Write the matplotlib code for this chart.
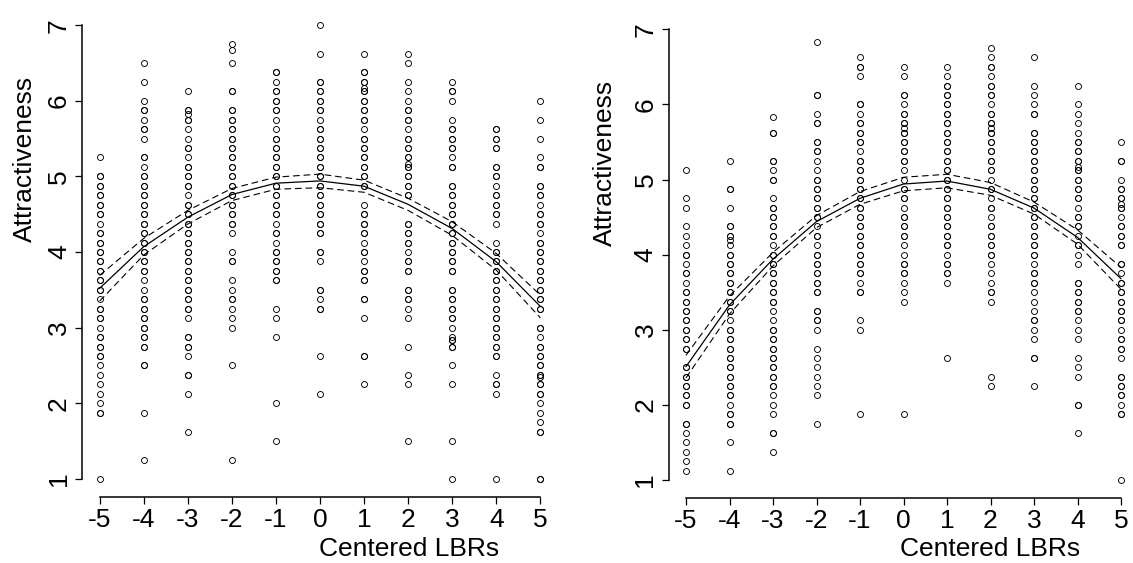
import matplotlib
matplotlib.use('Agg')
import matplotlib.pyplot as plt

plt.rcParams['font.family'] = ['Liberation Sans', 'DejaVu Sans']

# ---------------- data ----------------
x_levels = [-5, -4, -3, -2, -1, 0, 1, 2, 3, 4, 5]
x_ticklabels = ['-5', '-4', '-3', '-2', '-1', '0', '1', '2', '3', '4', '5']
y_ticks = [1, 2, 3, 4, 5, 6, 7]
x_label = 'Centered LBRs'
y_label = 'Attractiveness'

# left panel: attractiveness ratings at each centered LBR level (repeats = overplotted points)
left_m5 = [5.25, 5.0, 5.0, 4.875, 4.875, 4.75, 4.75, 4.625, 4.625, 4.5, 4.5, 4.375, 4.25, 4.25, 4.125, 4.125,
           4.0, 4.0, 3.875, 3.875, 3.75, 3.75, 3.625, 3.625, 3.5, 3.5, 3.375, 3.25, 3.25, 3.125, 3.125, 3.0,
           2.875, 2.875, 2.75, 2.75, 2.625, 2.625, 2.5, 2.375, 2.25, 2.125, 2.0, 1.875, 1.875, 1.0]
left_m4 = [6.5, 6.25, 6.0, 5.875, 5.875, 5.75, 5.625, 5.625, 5.5, 5.25, 5.25, 5.125, 5.0, 5.0, 4.875, 4.875,
           4.75, 4.75, 4.625, 4.625, 4.5, 4.5, 4.375, 4.375, 4.25, 4.25, 4.125, 4.125, 4.0, 4.0, 3.875, 3.875,
           3.75, 3.75, 3.625, 3.5, 3.375, 3.375, 3.25, 3.25, 3.125, 3.125, 3.0, 3.0, 2.875, 2.875, 2.75, 2.75,
           2.5, 2.5, 1.875, 1.25]
left_m3 = [6.125, 5.875, 5.875, 5.83, 5.75, 5.75, 5.625, 5.5, 5.375, 5.375, 5.25, 5.125, 5.125, 5.0, 5.0,
           4.875, 4.875, 4.75, 4.625, 4.625, 4.5, 4.5, 4.375, 4.375, 4.25, 4.25, 4.125, 4.125, 4.0, 4.0,
           3.875, 3.875, 3.75, 3.75, 3.625, 3.625, 3.5, 3.5, 3.375, 3.375, 3.25, 3.25, 3.125, 2.875, 2.875,
           2.75, 2.75, 2.625, 2.375, 2.375, 2.125, 1.625]
left_m2 = [6.75, 6.67, 6.5, 6.125, 6.125, 5.875, 5.875, 5.75, 5.75, 5.625, 5.625, 5.5, 5.5, 5.375, 5.375,
           5.25, 5.25, 5.125, 5.125, 5.0, 5.0, 4.875, 4.875, 4.75, 4.75, 4.625, 4.625, 4.5, 4.5, 4.375, 4.375,
           4.25, 4.0, 3.875, 3.875, 3.625, 3.5, 3.375, 3.375, 3.25, 3.125, 3.0, 2.5, 1.25]
left_m1 = [6.375, 6.375, 6.25, 6.125, 6.125, 6.0, 6.0, 5.875, 5.875, 5.75, 5.625, 5.5, 5.5, 5.375, 5.375,
           5.25, 5.25, 5.125, 5.125, 5.0, 5.0, 4.875, 4.875, 4.75, 4.75, 4.625, 4.625, 4.5, 4.5, 4.375,
           4.25, 4.25, 4.125, 4.0, 4.0, 3.875, 3.875, 3.75, 3.75, 3.625, 3.625, 3.25, 3.125, 2.875, 2.0, 1.5]
left_0 = [7.0, 6.625, 6.25, 6.25, 6.125, 6.125, 6.0, 6.0, 5.875, 5.875, 5.75, 5.625, 5.625, 5.5, 5.5,
          5.375, 5.375, 5.25, 5.25, 5.125, 5.125, 5.0, 5.0, 4.875, 4.875, 4.75, 4.75, 4.625, 4.625, 4.5, 4.5,
          4.375, 4.375, 4.25, 4.25, 4.0, 4.0, 3.875, 3.5, 3.5, 3.375, 3.25, 3.25, 2.625, 2.125]
left_p1 = [6.625, 6.375, 6.375, 6.25, 6.25, 6.17, 6.125, 6.125, 6.0, 6.0, 5.875, 5.875, 5.75, 5.75, 5.625,
           5.5, 5.5, 5.375, 5.375, 5.25, 5.25, 5.125, 5.125, 5.0, 5.0, 4.875, 4.875, 4.625, 4.5, 4.5,
           4.375, 4.375, 4.25, 4.25, 4.125, 4.0, 4.0, 3.875, 3.75, 3.75, 3.625, 3.625, 3.375, 3.375, 3.125,
           2.625, 2.625, 2.25]
left_p2 = [6.625, 6.5, 6.25, 6.125, 6.0, 5.875, 5.875, 5.75, 5.75, 5.625, 5.5, 5.5, 5.375, 5.375, 5.25, 5.25,
           5.17, 5.125, 5.125, 5.0, 5.0, 4.875, 4.875, 4.75, 4.75, 4.375, 4.375, 4.25, 4.25, 4.125, 4.125,
           4.0, 3.875, 3.875, 3.75, 3.75, 3.5, 3.5, 3.375, 3.375, 3.25, 3.125, 2.75, 2.375, 2.25, 1.5]
left_p3 = [6.25, 6.125, 6.125, 6.0, 5.75, 5.625, 5.625, 5.5, 5.5, 5.375, 5.375, 5.25, 5.125, 5.125, 4.875,
           4.875, 4.75, 4.75, 4.625, 4.625, 4.5, 4.5, 4.375, 4.375, 4.25, 4.25, 4.125, 4.125, 4.0, 4.0,
           3.875, 3.875, 3.75, 3.75, 3.5, 3.5, 3.375, 3.375, 3.25, 3.25, 3.125, 3.125, 3.0, 2.875, 2.83, 2.83,
           2.75, 2.75, 2.5, 2.25, 1.5, 1.0]
left_p4 = [5.625, 5.625, 5.5, 5.5, 5.375, 5.375, 5.125, 5.125, 5.0, 5.0, 4.875, 4.75, 4.75, 4.625, 4.625,
           4.5, 4.5, 4.375, 4.125, 4.0, 4.0, 3.875, 3.875, 3.75, 3.75, 3.625, 3.625, 3.5, 3.5, 3.375, 3.375,
           3.25, 3.25, 3.125, 3.125, 3.0, 3.0, 2.875, 2.875, 2.75, 2.75, 2.625, 2.625, 2.375, 2.25, 2.25,
           2.125, 1.0]
left_p5 = [6.0, 5.75, 5.5, 5.25, 5.125, 5.125, 4.875, 4.875, 4.75, 4.75, 4.625, 4.5, 4.5, 4.375, 4.375,
           4.25, 4.125, 4.125, 4.0, 4.0, 3.875, 3.875, 3.75, 3.75, 3.625, 3.625, 3.5, 3.5, 3.375, 3.375,
           3.25, 3.25, 3.0, 3.0, 2.875, 2.75, 2.75, 2.625, 2.625, 2.5, 2.5, 2.375, 2.375, 2.35, 2.25, 2.25,
           2.125, 2.125, 2.0, 1.875, 1.75, 1.625, 1.625, 1.0, 1.0]

# right panel
right_m5 = [5.125, 4.75, 4.625, 4.375, 4.25, 4.125, 4.0, 4.0, 3.875, 3.75, 3.75, 3.625, 3.5, 3.5, 3.375,
            3.375, 3.25, 3.25, 3.125, 3.125, 3.0, 3.0, 2.875, 2.875, 2.75, 2.75, 2.5, 2.5, 2.375, 2.375,
            2.25, 2.25, 2.125, 2.125, 2.0, 2.0, 1.75, 1.75, 1.625, 1.5, 1.375, 1.25, 1.125]
right_m4 = [5.25, 4.875, 4.875, 4.625, 4.375, 4.375, 4.25, 4.25, 4.19, 4.125, 4.0, 4.0, 3.875, 3.875,
            3.75, 3.75, 3.625, 3.625, 3.5, 3.5, 3.375, 3.375, 3.25, 3.25, 3.125, 3.0, 3.0, 2.875, 2.875,
            2.75, 2.75, 2.625, 2.625, 2.5, 2.5, 2.375, 2.375, 2.25, 2.25, 2.125, 2.125, 2.0, 1.875, 1.875,
            1.75, 1.75, 1.5, 1.125]
right_m3 = [5.83, 5.625, 5.625, 5.25, 5.25, 5.125, 5.0, 5.0, 4.75, 4.625, 4.625, 4.5, 4.5, 4.375, 4.375,
            4.25, 4.25, 4.125, 4.0, 4.0, 3.875, 3.875, 3.75, 3.75, 3.625, 3.625, 3.5, 3.5, 3.375, 3.375,
            3.25, 3.125, 3.0, 3.0, 2.875, 2.875, 2.75, 2.75, 2.625, 2.625, 2.5, 2.5, 2.375, 2.375, 2.25,
            2.25, 2.125, 2.0, 1.875, 1.625, 1.625, 1.375]
right_m2 = [6.83, 6.125, 6.125, 5.875, 5.75, 5.75, 5.5, 5.5, 5.375, 5.375, 5.25, 5.125, 5.0, 5.0, 4.875,
            4.875, 4.75, 4.75, 4.625, 4.625, 4.5, 4.5, 4.375, 4.25, 4.25, 4.125, 4.0, 4.0, 3.875, 3.875,
            3.75, 3.75, 3.625, 3.625, 3.5, 3.5, 3.25, 3.25, 3.125, 3.125, 3.0, 2.75, 2.625, 2.5, 2.375,
            2.25, 2.125, 1.75]
right_m1 = [6.625, 6.5, 6.5, 6.375, 6.0, 6.0, 5.875, 5.75, 5.75, 5.625, 5.625, 5.5, 5.5, 5.375, 5.25, 5.25,
            5.125, 5.125, 5.0, 5.0, 4.875, 4.875, 4.75, 4.75, 4.625, 4.625, 4.5, 4.5, 4.375, 4.375, 4.25,
            4.25, 4.125, 4.125, 4.0, 4.0, 3.875, 3.875, 3.75, 3.75, 3.625, 3.5, 3.5, 3.125, 3.0, 1.875]
right_0 = [6.5, 6.375, 6.125, 6.125, 6.0, 5.875, 5.875, 5.75, 5.75, 5.68, 5.625, 5.625, 5.5, 5.5, 5.375,
           5.375, 5.25, 5.25, 5.125, 5.0, 4.875, 4.875, 4.75, 4.75, 4.625, 4.5, 4.5, 4.375, 4.375, 4.25,
           4.25, 4.125, 4.0, 3.875, 3.875, 3.75, 3.75, 3.625, 3.5, 3.375, 1.875]
right_p1 = [6.5, 6.375, 6.25, 6.25, 6.125, 6.125, 6.0, 6.0, 5.875, 5.875, 5.75, 5.75, 5.625, 5.625, 5.5,
            5.5, 5.375, 5.375, 5.25, 5.25, 5.125, 5.125, 5.0, 5.0, 4.875, 4.875, 4.75, 4.75, 4.625, 4.625,
            4.5, 4.5, 4.375, 4.375, 4.25, 4.25, 4.125, 4.125, 4.0, 3.875, 3.875, 3.75, 3.75, 3.625, 2.625]
right_p2 = [6.75, 6.625, 6.5, 6.5, 6.375, 6.25, 6.25, 6.125, 6.125, 6.0, 5.875, 5.875, 5.75, 5.75, 5.68,
            5.625, 5.625, 5.5, 5.5, 5.375, 5.375, 5.25, 5.25, 5.125, 5.125, 5.0, 4.875, 4.875, 4.75, 4.625,
            4.625, 4.5, 4.375, 4.375, 4.25, 4.25, 4.125, 4.125, 4.0, 4.0, 3.875, 3.75, 3.625, 3.5, 3.5,
            3.375, 2.375, 2.25]
right_p3 = [6.625, 6.25, 6.125, 6.0, 5.875, 5.875, 5.625, 5.625, 5.5, 5.5, 5.375, 5.375, 5.25, 5.25,
            5.125, 5.125, 5.0, 5.0, 4.875, 4.875, 4.75, 4.75, 4.625, 4.625, 4.5, 4.5, 4.375, 4.375, 4.25,
            4.25, 4.125, 4.125, 4.0, 4.0, 3.875, 3.75, 3.75, 3.625, 3.625, 3.5, 3.375, 3.25, 3.125, 3.125,
            3.0, 2.875, 2.625, 2.625, 2.25]
right_p4 = [6.25, 6.0, 5.875, 5.75, 5.625, 5.5, 5.5, 5.375, 5.375, 5.25, 5.25, 5.17, 5.125, 5.125, 5.0,
            5.0, 4.875, 4.875, 4.75, 4.75, 4.625, 4.5, 4.5, 4.375, 4.375, 4.25, 4.125, 4.125, 4.0, 3.875,
            3.625, 3.625, 3.5, 3.5, 3.375, 3.375, 3.25, 3.25, 3.125, 3.0, 2.875, 2.625, 2.5, 2.375, 2.0,
            2.0, 1.625]
right_p5 = [5.5, 5.25, 5.25, 5.0, 4.875, 4.875, 4.75, 4.75, 4.68, 4.625, 4.625, 4.5, 4.375, 4.375, 4.25,
            4.25, 4.125, 4.125, 3.875, 3.875, 3.75, 3.625, 3.625, 3.5, 3.5, 3.375, 3.375, 3.25, 3.25,
            3.125, 3.125, 3.0, 2.875, 2.875, 2.75, 2.75, 2.625, 2.375, 2.375, 2.25, 2.25, 2.125, 2.125,
            2.0, 1.875, 1.875, 1.0]

# fitted quadratic curves with confidence bands (evaluated at each level)
left_fit = [3.52, 4.07, 4.46, 4.76, 4.91, 4.94, 4.87, 4.63, 4.31, 3.87, 3.28]
left_upper = [3.69, 4.18, 4.55, 4.84, 4.99, 5.03, 4.95, 4.71, 4.40, 3.98, 3.43]
left_lower = [3.35, 3.96, 4.37, 4.68, 4.83, 4.85, 4.79, 4.55, 4.22, 3.76, 3.13]

right_fit = [2.51, 3.33, 3.94, 4.44, 4.75, 4.94, 4.98, 4.87, 4.62, 4.23, 3.68]
right_upper = [2.66, 3.45, 4.03, 4.52, 4.84, 5.03, 5.07, 4.96, 4.70, 4.33, 3.83]
right_lower = [2.36, 3.21, 3.85, 4.36, 4.67, 4.85, 4.89, 4.79, 4.54, 4.14, 3.54]

left_columns = [left_m5, left_m4, left_m3, left_m2, left_m1, left_0,
                left_p1, left_p2, left_p3, left_p4, left_p5]
right_columns = [right_m5, right_m4, right_m3, right_m2, right_m1, right_0,
                 right_p1, right_p2, right_p3, right_p4, right_p5]

# ---------------- layout ----------------
W, H = 1133, 563
fig = plt.figure(figsize=(W / 100, H / 100), dpi=100)
fig.patch.set_facecolor('white')


def add_ax(x0, x1, ytop, ybot):
    return fig.add_axes([x0 / W, (H - ybot) / H, (x1 - x0) / W, (ybot - ytop) / H])


FS = 19
panels = [
    dict(ax=add_ax(82, 558, 7, 497), ylim=(0.76, 7.24), cols=left_columns,
         fit=left_fit, up=left_upper, lo=left_lower,
         ylab=(-0.1197, 0.69), xlab=(0.687, -0.106)),
    dict(ax=add_ax(668.6, 1138.4, 25, 497.5), ylim=(0.767, 7.057), cols=right_columns,
         fit=right_fit, up=right_upper, lo=right_lower,
         ylab=(-0.1354, 0.708), xlab=(0.684, -0.109)),
]

for p in panels:
    ax = p['ax']
    ax.set_facecolor('none')
    for xv, vals in zip(x_levels, p['cols']):
        ax.plot([xv] * len(vals), vals, linestyle='none', marker='o', ms=4.3,
                mfc='none', mec='black', mew=0.65, clip_on=False)
    ax.plot(x_levels, p['fit'], color='black', lw=0.9)
    ax.plot(x_levels, p['up'], color='black', lw=0.8, dashes=(6, 3.5))
    ax.plot(x_levels, p['lo'], color='black', lw=0.8, dashes=(6, 3.5))

    ax.set_xlim(-5.4, 5.4)
    ax.set_ylim(*p['ylim'])
    for s in ('top', 'right'):
        ax.spines[s].set_visible(False)
    ax.spines['left'].set_bounds(1, 7)
    ax.spines['bottom'].set_bounds(-5, 5)
    for s in ('left', 'bottom'):
        ax.spines[s].set_linewidth(1.1)
    ax.set_xticks(x_levels)
    ax.set_xticklabels(x_ticklabels)
    ax.set_yticks(y_ticks)
    ax.set_yticklabels([str(v) for v in y_ticks])
    ax.tick_params(direction='out', length=5, width=0.9, labelsize=FS, pad=3)
    ax.tick_params(axis='y', labelrotation=90)
    for lab in ax.get_yticklabels():
        lab.set_va('center')

    ax.set_ylabel(y_label, fontsize=FS, va='center', ha='center')
    ax.yaxis.set_label_coords(*p['ylab'])
    ax.set_xlabel(x_label, fontsize=FS, va='center', ha='center')
    ax.xaxis.set_label_coords(*p['xlab'])

fig.savefig('out.png', dpi=100)
